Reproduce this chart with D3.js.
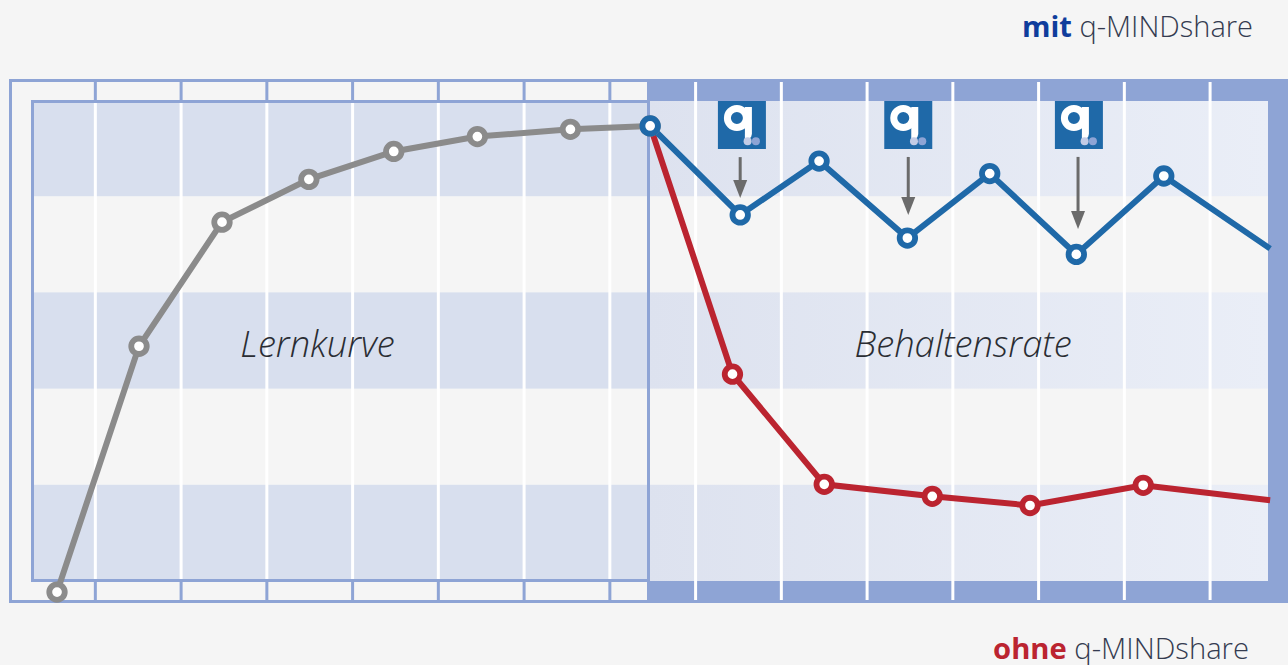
<!DOCTYPE html>
<html><head><meta charset="utf-8">
<script src="https://cdn.jsdelivr.net/npm/d3@7/dist/d3.min.js"></script>
<style>html,body{margin:0;padding:0;background:#f5f5f5;overflow:hidden}svg{display:block}
text{font-family:"Open Sans",sans-serif}</style></head><body><svg id="c" width="1288" height="665"></svg>
<script>
// x in period units (gridlines at whole numbers), y in percent of the inner plot height
const gridTicks=[1,2,3,4,5,6,7,8,9,10,11,12,13,14];
const bands=[[80,100],[40,60],[0,20]];
const learnX=[0.553,1.509,2.477,3.49,4.48,5.455,6.54,7.47];
const learnY=[-2.3,48.8,74.6,83.5,89.3,92.4,93.9,94.6];
const withX=[7.47,8.52,9.44,10.47,11.43,12.44,13.46,14.7];
const withY=[94.6,76.1,87.3,71.3,84.7,67.9,84.2,69.1];
const withoutX=[7.47,8.43,9.5,10.76,11.9,13.22,14.7];
const withoutY=[94.6,43,20.1,17.6,15.7,19.9,16.8];
const logoX=[8.54,10.48,12.47];
const arrowX=[8.52,10.48,12.46];
const arrowEnd=[79.6,76.1,73.2];
const arrowLen=[41,58,72];
const labels=[{t:"Lernkurve",x:3.59,y:49},{t:"Behaltensrate",x:11.12,y:49}];

const C={bg:"#f5f5f5",bar:"#8ea4d5",band:"#d8dfee",blue:"#1f69a8",red:"#bb2430",gray:"#8b8b8b",txt:"#343b50",dark:"#2a2d33",navy:"#0f3d9c"};
const x=d3.scaleLinear().domain([0,15]).range([9.6,1295.85]);
const y=d3.scaleLinear().domain([0,100]).range([581,100]);
const svg=d3.select("#c");
const defs=svg.append("defs");
const g=defs.append("linearGradient").attr("id","rg");
g.append("stop").attr("offset",0).attr("stop-color","#dde2ef");
g.append("stop").attr("offset",1).attr("stop-color","#eaeef7");

const split=647; const right=1268;
// frame & left panel
svg.append("rect").attr("x",10.5).attr("y",80.5).attr("width",1277).attr("height",521).attr("fill","none").attr("stroke",C.bar).attr("stroke-width",3);
// bands left
svg.selectAll(".bl").data(bands).join("rect").attr("x",32).attr("y",d=>y(d[1])).attr("width",split-32).attr("height",d=>y(d[0])-y(d[1])).attr("fill",C.band);
// right frame
svg.append("rect").attr("x",split).attr("y",79).attr("width",1288-split).attr("height",22).attr("fill",C.bar);
svg.append("rect").attr("x",split).attr("y",581).attr("width",1288-split).attr("height",22).attr("fill",C.bar);
svg.append("rect").attr("x",right).attr("y",79).attr("width",20).attr("height",524).attr("fill",C.bar);
svg.selectAll(".br").data(bands).join("rect").attr("x",split).attr("y",d=>y(d[1])+(d[1]===100?1:0)).attr("width",right-split).attr("height",d=>y(d[0])-y(d[1])-(d[1]===100?1:0)).attr("fill","url(#rg)");
// gridlines: white inside, blue ticks in left margin strips
svg.selectAll(".gw").data(gridTicks).join("line").attr("x1",d=>x(d)).attr("x2",d=>x(d)).attr("y1",d=>x(d)<split?100:82).attr("y2",d=>x(d)<split?581:600).attr("stroke","#fff").attr("stroke-width",3);
const leftTicks=gridTicks.filter(d=>x(d)<split);
svg.selectAll(".gt").data(leftTicks).join("line").attr("x1",d=>x(d)).attr("x2",d=>x(d)).attr("y1",81).attr("y2",100).attr("stroke",C.bar).attr("stroke-width",3);
svg.selectAll(".gb").data(leftTicks).join("line").attr("x1",d=>x(d)).attr("x2",d=>x(d)).attr("y1",581).attr("y2",601).attr("stroke",C.bar).attr("stroke-width",3);
// inner panel outline
svg.append("path").attr("d",`M${split} 101.5H32.5V580.5H${split}`).attr("fill","none").attr("stroke",C.bar).attr("stroke-width",3);
svg.append("line").attr("x1",split+1.5).attr("x2",split+1.5).attr("y1",100).attr("y2",603).attr("stroke",C.bar).attr("stroke-width",3);

// labels
svg.selectAll(".lb").data(labels).join("text").attr("x",d=>x(d.x)).attr("y",d=>y(d.y)+12).attr("text-anchor","middle").attr("font-size",36.3).attr("font-style","italic").attr("font-weight",300).attr("fill",C.dark).text(d=>d.t);

// lines
const line=d3.line().x(d=>x(d[0])).y(d=>y(d[1]));
function series(xs,ys,col){
  const pts=xs.map((v,i)=>[v,ys[i]]);
  svg.append("path").attr("d",line(pts)).attr("fill","none").attr("stroke",col).attr("stroke-width",6);
  return pts;
}
const red=series(withoutX,withoutY,C.red);
const gray=series(learnX,learnY,C.gray);
const blue=series(withX,withY,C.blue);
function dots(pts,col){
  svg.append("g").selectAll("circle").data(pts).join("circle").attr("cx",d=>x(d[0])).attr("cy",d=>y(d[1])).attr("r",7.75).attr("fill","#fff").attr("stroke",col).attr("stroke-width",5.8);
}
dots(red.slice(1,-1),C.red);
dots(gray,C.gray);
dots(blue.slice(0,-1),C.blue);

// logos
const lg=svg.append("g").selectAll("g").data(logoX).join("g").attr("transform",d=>`translate(${x(d)},125)`);
lg.append("rect").attr("x",-24).attr("y",-24).attr("width",48).attr("height",48).attr("fill",C.blue);
lg.append("circle").attr("cx",-5).attr("cy",-7).attr("r",9.5).attr("fill","none").attr("stroke","#fff").attr("stroke-width",7);
lg.append("path").attr("d","M3 -18 H10 V9 Q10 12 7 14 H3 Z").attr("fill","#fff");
lg.append("circle").attr("cx",5.7).attr("cy",16.3).attr("r",4).attr("fill","#c3cce6");
lg.append("circle").attr("cx",14).attr("cy",16.3).attr("r",4).attr("fill","#8ea4d5");
// arrows
const ar=svg.append("g").selectAll("g").data(arrowX.map((d,i)=>({x:d,e:arrowEnd[i],l:arrowLen[i]}))).join("g").attr("transform",d=>`translate(${x(d.x)},${y(d.e)})`);
ar.append("line").attr("y1",d=>-d.l).attr("y2",-15).attr("stroke","#6b6b6b").attr("stroke-width",3);
ar.append("path").attr("d","M-7 -18 H7 L0 0 Z").attr("fill","#6b6b6b");

// titles
const t1=svg.append("text").attr("x",1253).attr("y",37).attr("text-anchor","end").attr("font-size",29).attr("font-weight",300).attr("fill",C.txt);
t1.append("tspan").attr("font-weight",700).attr("fill",C.navy).text("mit");t1.append("tspan").text(" q-MINDshare");
const t2=svg.append("text").attr("x",1249).attr("y",659).attr("text-anchor","end").attr("font-size",29.2).attr("font-weight",300).attr("fill",C.txt);
t2.append("tspan").attr("font-weight",700).attr("fill",C.red).text("ohne");t2.append("tspan").text(" q-MINDshare");
</script></body></html>
